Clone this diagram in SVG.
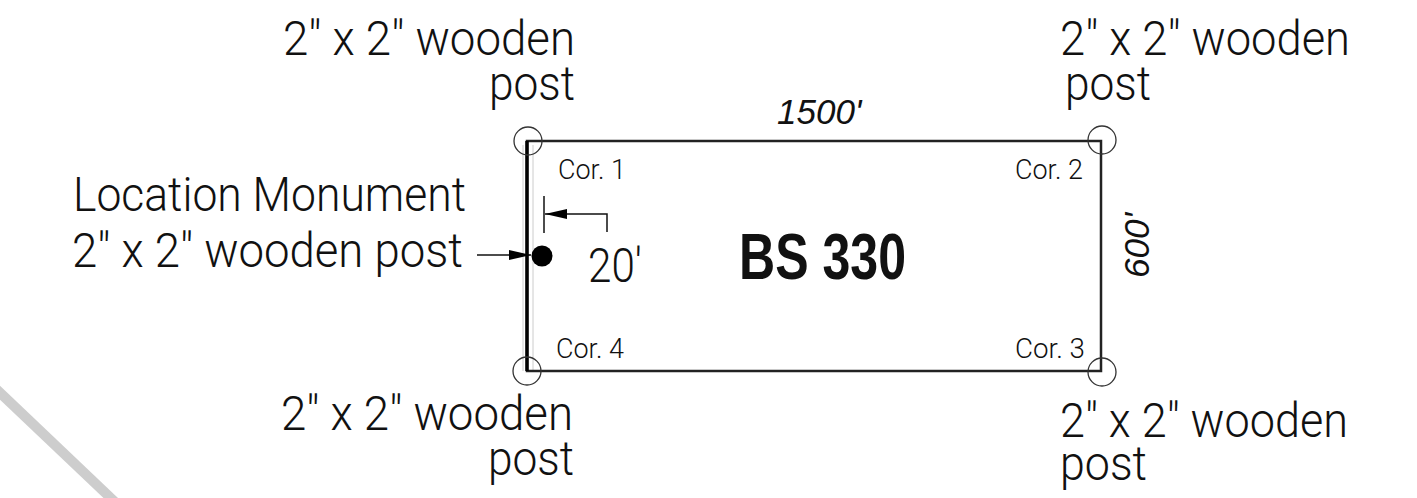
<svg xmlns="http://www.w3.org/2000/svg" width="1417" height="498" viewBox="0 0 1417 498">
<style>
text{font-family:"Roboto","Liberation Sans",sans-serif;fill:#111;font-weight:300}
.l{font-size:49px}
.c{font-size:28px}
.d{font-size:35px;font-style:italic;font-weight:400;font-family:"Liberation Sans",sans-serif}
.o{fill:none;stroke:#333;stroke-width:1.3}
.m{fill:none;stroke:#111;stroke-width:1.5}
.g{stroke:#ccc;stroke-width:1}
</style>
<defs><marker id="a" markerWidth="24" markerHeight="12" refX="22" refY="6" orient="auto" markerUnits="userSpaceOnUse"><path d="M0 6L22 1V11Z" fill="#000" transform="rotate(180 11 6)"/></marker></defs>
<rect width="1417" height="498" fill="#fff"/>
<path id="edge" d="M-5 388L116 503" stroke="#cdcdcd" stroke-width="10" fill="none"/>
<g id="connectors">
<path d="M533 145V371M523 145V371" class="g"/>
<path d="M527 141H1101V371H527Z" fill="none" stroke="#222" stroke-width="2.5"/>
<path d="M527 141V371" stroke="#000" stroke-width="3.5"/>
<path d="M477 255H531" class="m" marker-end="url(#a)"/>
<path d="M544 196V233" class="m"/>
<path d="M607 232V214H545" class="m" marker-end="url(#a)"/>
</g>
<g id="post-1"><circle cx="528" cy="141" r="14" class="o"/><text class="c" x="558" y="179" textLength="68" lengthAdjust="spacingAndGlyphs">Cor. 1</text>
<text class="l" x="283" y="55" textLength="292" lengthAdjust="spacingAndGlyphs">2" x 2" wooden</text><text class="l" x="489" y="100" textLength="86" lengthAdjust="spacingAndGlyphs">post</text></g>
<g id="post-2"><circle cx="1102" cy="140" r="14" class="o"/><text class="c" x="1015" y="179" textLength="68" lengthAdjust="spacingAndGlyphs">Cor. 2</text>
<text class="l" x="1060" y="55" textLength="290" lengthAdjust="spacingAndGlyphs">2" x 2" wooden</text><text class="l" x="1065" y="100" textLength="86" lengthAdjust="spacingAndGlyphs">post</text></g>
<g id="post-3"><circle cx="1102" cy="372" r="14" class="o"/><text class="c" x="1015" y="358" textLength="70" lengthAdjust="spacingAndGlyphs">Cor. 3</text>
<text class="l" x="1060" y="437" textLength="288" lengthAdjust="spacingAndGlyphs">2" x 2" wooden</text><text class="l" x="1060" y="480" textLength="87" lengthAdjust="spacingAndGlyphs">post</text></g>
<g id="post-4"><circle cx="527" cy="371" r="14" class="o"/><text class="c" x="556" y="358" textLength="68" lengthAdjust="spacingAndGlyphs">Cor. 4</text>
<text class="l" x="281" y="430" textLength="292" lengthAdjust="spacingAndGlyphs">2" x 2" wooden</text><text class="l" x="488" y="475" textLength="86" lengthAdjust="spacingAndGlyphs">post</text></g>
<g id="monument"><circle cx="542" cy="256" r="10.5" fill="#000"/>
<text class="l" x="73" y="211" textLength="393" lengthAdjust="spacingAndGlyphs">Location Monument</text><text class="l" x="72" y="267" textLength="391" lengthAdjust="spacingAndGlyphs">2" x 2" wooden post</text></g>
<g id="labels">
<text x="588" y="282" style="font-size:48px" textLength="54" lengthAdjust="spacingAndGlyphs">20'</text>
<text x="739" y="279" style="font-size:64px;font-weight:700;font-family:'Liberation Sans',sans-serif" textLength="167" lengthAdjust="spacingAndGlyphs">BS 330</text>
<text class="d" x="777" y="124">1500'</text>
<text class="d" transform="translate(1149 278) rotate(-90)">600'</text>
</g>
</svg>
